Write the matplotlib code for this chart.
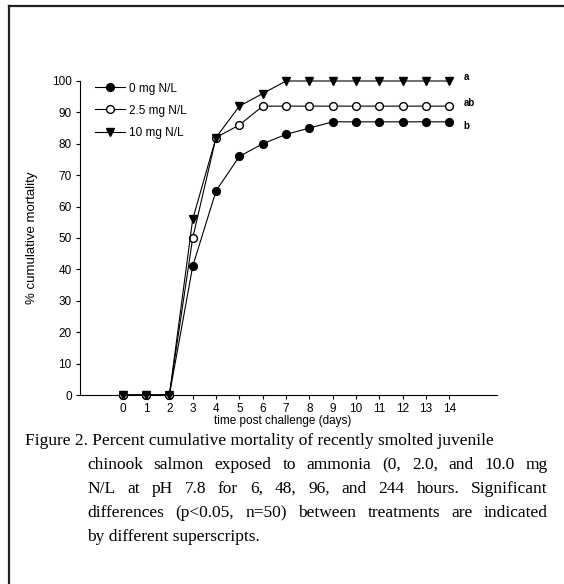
import matplotlib
matplotlib.use("Agg")
import matplotlib.pyplot as plt
from matplotlib.lines import Line2D

# data
days = [0, 1, 2, 3, 4, 5, 6, 7, 8, 9, 10, 11, 12, 13, 14]
mort_0 = [0, 0, 0, 41, 65, 76, 80, 83, 85, 87, 87, 87, 87, 87, 87]
mort_25 = [0, 0, 0, 50, 82, 86, 92, 92, 92, 92, 92, 92, 92, 92, 92]
mort_10 = [0, 0, 0, 56, 82, 92, 96, 100, 100, 100, 100, 100, 100, 100, 100]
labels = ["0 mg N/L", "2.5 mg N/L", "10 mg N/L"]
letters = ["b", "ab", "a"]

caption_lines = [
    "Figure 2. Percent cumulative mortality of recently smolted juvenile",
    "chinook salmon exposed to ammonia (0, 2.0, and 10.0 mg",
    "N/L  at pH 7.8 for 6, 48, 96, and 244 hours. Significant",
    "differences (p<0.05, n=50) between treatments are indicated",
    "by different superscripts.",
]

W, H, DPI = 564, 584, 100
plt.rcParams["font.family"] = ["Liberation Sans", "DejaVu Sans"]

fig = plt.figure(figsize=(W / DPI, H / DPI), dpi=DPI)
ax = fig.add_axes([80 / W, 1 - 395 / H, (497 - 80) / W, (395 - 81) / H])

kw = dict(color="black", lw=0.8, markersize=5.6, clip_on=False, zorder=3)
ax.plot(days, mort_0, marker="o", mfc="black", mec="black", label=labels[0], **kw)
ax.plot(days, mort_25, marker="o", mfc="white", mec="black", label=labels[1], **kw)
ax.plot(days, mort_10, marker="v", mfc="black", mec="black", label=labels[2], **kw)

# significance letters at the end of each series
for series, letter, dy in zip([mort_0, mort_25, mort_10], letters, [-1.3, 1.0, 1.3]):
    ax.text(14.6, series[-1] + dy, letter, fontsize=7, fontweight="bold",
            ha="left", va="center")

ax.set_xlim(-1.83, 16.04)
ax.set_ylim(0, 100)
ax.set_xticks(days)
ax.set_yticks(range(0, 101, 10))
ax.tick_params(axis="both", direction="out", length=3, width=0.8,
               labelsize=8.5, pad=3)
ax.tick_params(axis="x", pad=3)
for s in ["top", "right"]:
    ax.spines[s].set_visible(False)
for s in ["left", "bottom"]:
    ax.spines[s].set_linewidth(0.8)

ax.set_xlabel("time post challenge (days)", fontsize=8.5)
ax.xaxis.set_label_coords((283 - 80) / 417, -(415 - 395) / 314)
ax.set_ylabel("% cumulative mortality", fontsize=9.5)
ax.yaxis.set_label_coords(-(80 - 38) / 417, 0.5)

ax.legend(loc="upper left", bbox_to_anchor=(0.025, 1.01), frameon=False,
          fontsize=8.5, handlelength=2.5, handletextpad=0.4, labelspacing=0.85,
          borderaxespad=0)

# frame lines (left and top only)
fig.add_artist(Line2D([9 / W, 9 / W], [0, 1 - 6 / H], transform=fig.transFigure,
                      color="#222222", lw=1.6))
fig.add_artist(Line2D([9 / W, 1], [1 - 6 / H, 1 - 6 / H], transform=fig.transFigure,
                      color="#222222", lw=1.6))

# caption with hanging indent, justified middle lines
cap_kw = dict(family="Liberation Serif", fontsize=12.5, va="center", ha="left")
line_y = [441, 465, 489, 513, 537]
left_x = [25, 87, 87, 87, 87]
right_x = 548
justify = [False, True, True, True, False]

renderer = fig.canvas.get_renderer()
for txt, y, x0, just in zip(caption_lines, line_y, left_x, justify):
    yf = 1 - y / H
    if not just:
        fig.text(x0 / W, yf, txt, **cap_kw)
        continue
    words = txt.split()
    objs = [fig.text(0, yf, w, **cap_kw) for w in words]
    widths = [o.get_window_extent(renderer).width for o in objs]
    gap = (right_x - x0 - sum(widths)) / (len(words) - 1)
    x = x0
    for o, wd in zip(objs, widths):
        o.set_x(x / W)
        x += wd + gap

fig.savefig("out.png", dpi=DPI)
